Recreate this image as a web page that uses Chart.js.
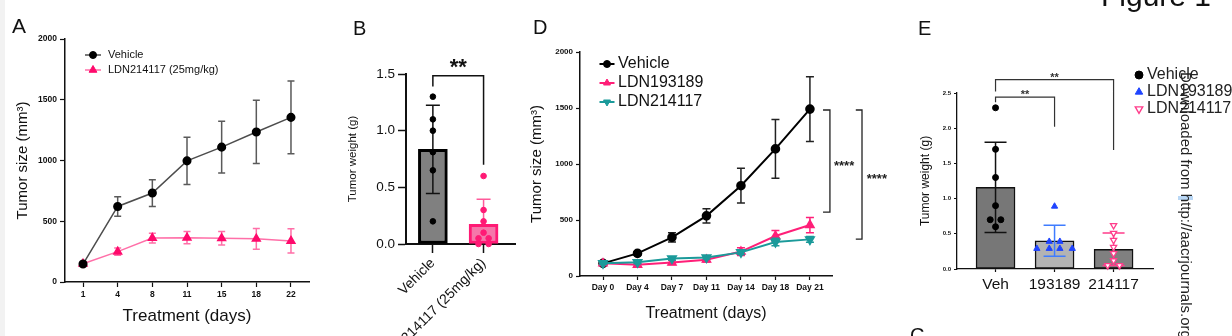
<!DOCTYPE html>
<html>
<head>
<meta charset="utf-8">
<title>Figure 1</title>
<script src="https://cdn.jsdelivr.net/npm/chart.js@4.4.1/dist/chart.umd.min.js"></script>
<style>
  html, body { margin: 0; padding: 0; background: #fff; }
  body { width: 1232px; height: 336px; position: relative; overflow: hidden;
         font-family: "Liberation Sans", Arial, Helvetica, sans-serif; color: #111; }
  .pane { position: absolute; top: 0; }
  .lbl { position: absolute; line-height: 1; white-space: nowrap; }
</style>
</head>
<body>
<div style="position:absolute;left:0;top:0;width:5px;height:336px;background:#f2f2f2"></div>

<div class="pane" style="left:0"><canvas id="chA" width="320" height="336"></canvas></div>
<div class="pane" style="left:320px"><canvas id="chB" width="200" height="336"></canvas></div>
<div class="pane" style="left:520px"><canvas id="chD" width="380" height="336"></canvas></div>
<div class="pane" style="left:900px"><canvas id="chE" width="332" height="336"></canvas></div>

<div class="lbl" style="left:12px;top:15px;font-size:21px">A</div>
<div class="lbl" style="left:353px;top:18px;font-size:20px">B</div>
<div class="lbl" style="left:533px;top:17px;font-size:20px">D</div>
<div class="lbl" style="left:918px;top:18px;font-size:20px">E</div>
<div class="lbl" style="left:910px;top:325px;font-size:20px">C</div>
<div class="lbl" style="left:1101px;top:-19px;font-size:30px">Figure 1</div>
<div style="position:absolute;left:1178px;top:196px;width:15px;height:4px;background:#b9d7f5"></div>
<div class="lbl" style="left:1178px;top:72px;font-size:15px;line-height:16px;writing-mode:vertical-rl;color:#222">Downloaded from http://aacrjournals.org/</div>

<script>
// ---- panel A: tumour size, vehicle vs LDN214117 25 mg/kg ----
const DAYS_A = ['1', '4', '8', '11', '15', '18', '22'];
const VEH_A = [148, 622, 732, 997, 1110, 1235, 1355];
const VEH_A_ERR = [12, 80, 110, 195, 213, 260, 300];
const LDN_A = [150, 250, 362, 365, 360, 355, 338];
const LDN_A_ERR = [12, 30, 40, 50, 55, 85, 100];

// ---- panel B: tumour weight ----
const GROUPS_B = ['Vehicle', 'LDN214117 (25mg/kg)'];
const MEAN_B = [0.835, 0.174];
const SD_B = [0.39, 0.22];
const VEH_B_PTS = [1.30, 1.10, 1.00, 0.81, 0.65, 0.20];
const LDN_B_PTS = [0.60, 0.30, 0.20, 0.10, 0.05, 0.05, 0.0, 0.0];
const LDN_B_JIT = [0, 0, 0, 0, -0.1, 0.1, -0.1, 0.1];

// ---- panel D: tumour size, three groups ----
const DAYS_D = ['Day 0', 'Day 4', 'Day 7', 'Day 11', 'Day 14', 'Day 18', 'Day 21'];
const VEH_D = [113, 202, 345, 537, 806, 1135, 1490];
const VEH_D_ERR = [10, 15, 42, 63, 155, 263, 290];
const L193_D = [113, 100, 120, 145, 218, 357, 455];
const L193_D_ERR = [10, 12, 18, 20, 35, 50, 68];
const L214_D = [113, 122, 157, 166, 211, 303, 327];
const L214_D_ERR = [10, 12, 15, 15, 20, 33, 25];

// ---- panel E: tumour weight, three groups ----
const GROUPS_E = ['Veh', '193189', '214117'];
const MEAN_E = [1.16, 0.40, 0.28];
const SD_E = [0.64, 0.22, 0.23];
const VEH_E_PTS = [2.29, 1.70, 1.30, 0.90, 0.70, 0.70, 0.60];
const VEH_E_JIT = [0, 0, 0, 0, -0.09, 0.09, 0];
const L193_E_PTS = [0.89, 0.39, 0.39, 0.29, 0.29, 0.29, 0.29];
const L193_E_JIT = [0, -0.09, 0.09, -0.3, -0.09, 0.09, 0.3];
const L214_E_PTS = [0.62, 0.51, 0.41, 0.31, 0.22, 0.12, 0.05, 0.05];
const L214_E_JIT = [0, 0, 0, 0, 0, 0, -0.1, 0.1];

Chart.defaults.font.family = '"Liberation Sans", Arial, Helvetica, sans-serif';
Chart.defaults.color = '#111';

const series = arr => arr.map((v, i) => ({ x: i, y: v }));

function drawErrorBars(chart, index) {
  const ds = chart.data.datasets[index];
  if (!ds.err) return;
  const { ctx, scales: { x, y } } = chart;
  ctx.save();
  ctx.lineWidth = ds.errWidth || 1.5;
  ds.data.forEach((p, j) => {
    const e = ds.err[j];
    const cx = x.getPixelForValue(p.x);
    const top = y.getPixelForValue(p.y + e);
    const mid = y.getPixelForValue(p.y);
    const bot = p.y - e > 0 ? y.getPixelForValue(p.y - e) : mid;
    const half = ds.errCap / 2;
    ctx.strokeStyle = Array.isArray(ds.errColor) ? ds.errColor[j] : ds.errColor;
    ctx.beginPath();
    ctx.moveTo(cx, top); ctx.lineTo(cx, bot);
    ctx.moveTo(cx - half, top); ctx.lineTo(cx + half, top);
    if (bot !== mid) { ctx.moveTo(cx - half, bot); ctx.lineTo(cx + half, bot); }
    ctx.stroke();
  });
  ctx.restore();
}

// error bars go under line markers, but over bars
const errorBars = {
  id: 'errorBars',
  beforeDatasetDraw(chart, args) {
    if (!chart.data.datasets[args.index].errOnTop) drawErrorBars(chart, args.index);
  },
  afterDatasetDraw(chart, args) {
    if (chart.data.datasets[args.index].errOnTop) drawErrorBars(chart, args.index);
  }
};

const customLegend = {
  id: 'customLegend',
  afterDraw(chart, args, opts) {
    if (!opts.items) return;
    const ctx = chart.ctx;
    ctx.save();
    ctx.font = opts.font;
    ctx.textBaseline = 'middle';
    opts.items.forEach((it, i) => {
      const y = opts.y + i * opts.dy;
      if (it.line) {
        ctx.strokeStyle = it.line;
        ctx.lineWidth = opts.lineWidth || 1.5;
        ctx.beginPath();
        ctx.moveTo(opts.x - opts.lineHalf, y);
        ctx.lineTo(opts.x + opts.lineHalf, y);
        ctx.stroke();
      }
      ctx.fillStyle = it.fill;
      ctx.strokeStyle = it.stroke || it.fill;
      ctx.lineWidth = it.bw || 1;
      Chart.helpers.drawPoint(ctx, { pointStyle: it.style, rotation: it.rotation || 0, radius: it.r, borderWidth: it.bw || 1 }, opts.x, y);
      ctx.fillStyle = opts.color || '#111';
      ctx.textAlign = 'left';
      ctx.fillText(it.label, opts.textX, y);
    });
    ctx.restore();
  }
};

const sigBrackets = {
  id: 'sigBrackets',
  afterDraw(chart, args, opts) {
    if (!opts.items) return;
    const { ctx, scales: { x, y } } = chart;
    ctx.save();
    ctx.strokeStyle = opts.color || '#222';
    ctx.lineWidth = opts.width || 1.2;
    ctx.fillStyle = opts.color || '#222';
    ctx.font = opts.font;
    ctx.textAlign = 'center';
    ctx.textBaseline = 'middle';
    for (const b of opts.items) {
      ctx.beginPath();
      b.path.forEach(([vx, vy], k) => {
        const px = x.getPixelForValue(vx), py = y.getPixelForValue(vy);
        if (k) ctx.lineTo(px, py); else ctx.moveTo(px, py);
      });
      ctx.stroke();
      ctx.fillText(b.text, x.getPixelForValue(b.tx), y.getPixelForValue(b.ty));
    }
    ctx.restore();
  }
};

function yAxis(o) {
  return {
    type: 'linear', min: o.min, max: o.max,
    ticks: { stepSize: o.step, font: o.font, color: '#111', padding: 3,
             callback: o.fmt || (v => v) },
    grid: { drawOnChartArea: false, drawTicks: true, tickLength: o.tick, color: '#111', tickWidth: o.tickWidth || 1.2 },
    border: { display: true, color: '#111', width: o.border || 1.5 },
    title: o.title ? { display: true, text: o.title, font: o.titleFont, color: '#111', padding: { top: 4, bottom: 4 } } : { display: false },
    afterFit: s => { s.width = o.width; }
  };
}

function xAxis(o) {
  return {
    type: 'linear', min: o.min, max: o.max, offset: false,
    afterBuildTicks: s => { s.ticks = o.labels.map((_, i) => ({ value: i })); },
    ticks: { font: o.font, color: '#111', padding: o.pad || 3, autoSkip: false,
             maxRotation: o.rot || 0, minRotation: o.rot || 0, callback: v => o.labels[v] },
    grid: { offset: false, drawOnChartArea: false, drawTicks: true, tickLength: o.tick, color: '#111', tickWidth: o.tickWidth || 1.2 },
    border: { display: true, color: '#111', width: o.border || 1.5 },
    title: o.title ? { display: true, text: o.title, font: o.titleFont, color: '#111', padding: { top: 4, bottom: 4 } } : { display: false },
    afterFit: s => { s.height = o.height; }
  };
}

const base = { responsive: false, animation: false, events: [] };

// ---------- A ----------
new Chart(document.getElementById('chA'), {
  type: 'line',
  data: { datasets: [
    { label: 'Vehicle', data: series(VEH_A), err: VEH_A_ERR, errColor: '#5a5a5a', errCap: 7,
      borderColor: '#4d4d4d', borderWidth: 1.5, pointStyle: 'circle', pointRadius: 3.8,
      pointBackgroundColor: '#000', pointBorderColor: '#000' },
    { label: 'LDN214117 (25mg/kg)', data: series(LDN_A), err: LDN_A_ERR, errColor: '#ff6fa8', errCap: 7,
      borderColor: '#ff6fa8', borderWidth: 1.5, pointStyle: 'triangle', pointRadius: 4.5,
      pointBackgroundColor: '#ff0a6c', pointBorderColor: '#ff0a6c' }
  ] },
  options: { ...base,
    layout: { padding: { left: 10, top: 39, right: 11, bottom: 5 } },
    plugins: { legend: { display: false }, tooltip: { enabled: false },
      customLegend: { x: 93, y: 55, dy: 15, lineHalf: 8, textX: 108, font: '11px "Liberation Sans", Arial, sans-serif',
        items: [
          { label: 'Vehicle', line: '#4d4d4d', fill: '#000', style: 'circle', r: 3.5 },
          { label: 'LDN214117 (25mg/kg)', line: '#ff6fa8', fill: '#ff0a6c', style: 'triangle', r: 4.5 }
        ] } },
    scales: {
      x: xAxis({ min: -0.52, max: 6.52, labels: DAYS_A, height: 49, tick: 5,
                 font: { size: 8.5, weight: 'bold' }, title: 'Treatment (days)', titleFont: { size: 17 } }),
      y: yAxis({ min: 0, max: 2000, step: 500, width: 55, tick: 5,
                 font: { size: 8.5, weight: 'bold' }, title: 'Tumor size (mm³)', titleFont: { size: 15 } })
    } },
  plugins: [errorBars, customLegend]
});

// ---------- B ----------
new Chart(document.getElementById('chB'), {
  type: 'bar',
  data: { datasets: [
    { type: 'scatter', data: VEH_B_PTS.map(v => ({ x: 0, y: v })), pointRadius: 2.8, clip: false,
      pointBackgroundColor: '#000', pointBorderColor: '#000' },
    { type: 'scatter', data: LDN_B_PTS.map((v, i) => ({ x: 1 + LDN_B_JIT[i], y: v })), pointRadius: 2.8, clip: false,
      pointBackgroundColor: '#ff1a75', pointBorderColor: '#ff1a75' },
    { type: 'bar', data: series(MEAN_B), err: SD_B, errOnTop: true, errColor: ['#111', '#ff5a9a'], errCap: 14, errWidth: 1.5,
      backgroundColor: ['#808080', '#f577aa'], borderColor: ['#000', '#ff1a75'], borderWidth: 3,
      borderSkipped: false, barThickness: 29 }
  ] },
  options: { ...base,
    layout: { padding: { left: 22, top: 74, right: 0, bottom: 0 } },
    plugins: { legend: { display: false }, tooltip: { enabled: false },
      sigBrackets: { font: 'bold 22px "Liberation Sans", Arial, sans-serif', width: 1.5, color: '#111',
        items: [{ path: [[0, 1.39], [0, 1.485], [1, 1.485], [1, 0.70]], text: '**', tx: 0.5, ty: 1.55 }] } },
    scales: {
      x: xAxis({ min: -0.53, max: 1.62, labels: GROUPS_B, height: 92, tick: 9, rot: 45, pad: 2,
                 font: { size: 14 }, border: 2, tickWidth: 1.5 }),
      y: yAxis({ min: 0, max: 1.5, step: 0.5, width: 64, tick: 8, border: 2, tickWidth: 1.5,
                 font: { size: 13.5 }, fmt: v => v.toFixed(1), title: 'Tumor weight (g)', titleFont: { size: 11.5 } })
    } },
  plugins: [errorBars, sigBrackets]
});

// ---------- D ----------
new Chart(document.getElementById('chD'), {
  type: 'line',
  data: { datasets: [
    { label: 'LDN214117', data: series(L214_D), err: L214_D_ERR, errColor: '#1b9a9a', errCap: 8,
      borderColor: '#1b9a9a', borderWidth: 2, pointStyle: 'triangle', rotation: 180, pointRadius: 4.5,
      pointBackgroundColor: '#1b9a9a', pointBorderColor: '#1b9a9a' },
    { label: 'LDN193189', data: series(L193_D), err: L193_D_ERR, errColor: '#ff1f78', errCap: 8,
      borderColor: '#ff1f78', borderWidth: 2, pointStyle: 'triangle', pointRadius: 4.2,
      pointBackgroundColor: '#ff1f78', pointBorderColor: '#ff1f78' },
    { label: 'Vehicle', data: series(VEH_D), err: VEH_D_ERR, errColor: '#222', errCap: 8,
      borderColor: '#000', borderWidth: 2, pointStyle: 'circle', pointRadius: 3.8,
      pointBackgroundColor: '#000', pointBorderColor: '#000' }
  ] },
  options: { ...base,
    layout: { padding: { left: 4, top: 52, right: 68, bottom: 9 } },
    plugins: { legend: { display: false }, tooltip: { enabled: false },
      customLegend: { x: 87, y: 64, dy: 19, lineHalf: 7.5, lineWidth: 2, textX: 98, font: '16px "Liberation Sans", Arial, sans-serif',
        items: [
          { label: 'Vehicle', line: '#000', fill: '#000', style: 'circle', r: 3.5 },
          { label: 'LDN193189', line: '#ff1f78', fill: '#ff1f78', style: 'triangle', r: 4 },
          { label: 'LDN214117', line: '#1b9a9a', fill: '#1b9a9a', style: 'triangle', rotation: 180, r: 4 }
        ] },
      sigBrackets: { font: 'bold 13px "Liberation Sans", Arial, sans-serif', width: 1.3, color: '#222',
        items: [
          { path: [[6.38, 1482], [6.58, 1482], [6.58, 571], [6.38, 571]], text: '****', tx: 6.99, ty: 982 },
          { path: [[7.33, 1482], [7.51, 1482], [7.51, 330], [7.33, 330]], text: '****', tx: 7.94, ty: 866 }
        ] } },
    scales: {
      x: xAxis({ min: -0.667, max: 6.64, labels: DAYS_D, height: 51, tick: 4,
                 font: { size: 8.5, weight: 'bold' }, title: 'Treatment (days)', titleFont: { size: 16 } }),
      y: yAxis({ min: 0, max: 2000, step: 500, width: 56, tick: 4,
                 font: { size: 8, weight: 'bold' }, title: 'Tumor size (mm³)', titleFont: { size: 15 } })
    } },
  plugins: [errorBars, customLegend, sigBrackets]
});

// ---------- E ----------
new Chart(document.getElementById('chE'), {
  type: 'bar',
  data: { datasets: [
    { type: 'scatter', data: VEH_E_PTS.map((v, i) => ({ x: VEH_E_JIT[i], y: v })), pointRadius: 3, clip: false,
      pointBackgroundColor: '#000', pointBorderColor: '#000' },
    { type: 'scatter', data: L193_E_PTS.map((v, i) => ({ x: 1 + L193_E_JIT[i], y: v })), pointRadius: 3.6, clip: false,
      pointStyle: 'triangle', pointBackgroundColor: '#1f44ff', pointBorderColor: '#1f44ff' },
    { type: 'scatter', data: L214_E_PTS.map((v, i) => ({ x: 2 + L214_E_JIT[i], y: v })), pointRadius: 3.6, clip: false,
      pointStyle: 'triangle', rotation: 180, pointBackgroundColor: '#fff', pointBorderColor: '#ff3d8b', pointBorderWidth: 1.3 },
    { type: 'bar', data: series(MEAN_E), err: SD_E, errOnTop: true, errColor: ['#111', '#3f7cff', '#ff3d8b'], errCap: 22, errWidth: 1.5,
      backgroundColor: ['#777', '#b3b3b3', '#808080'], borderColor: '#111', borderWidth: 1.5,
      borderSkipped: false, barThickness: 39 }
  ] },
  options: { ...base,
    layout: { padding: { left: 14, top: 93, right: 79, bottom: 0 } },
    plugins: { legend: { display: false }, tooltip: { enabled: false },
      customLegend: { x: 239, y: 75, dy: 17, lineHalf: 0, textX: 247, color: '#222', font: '16px "Liberation Sans", Arial, sans-serif',
        items: [
          { label: 'Vehicle', fill: '#000', style: 'circle', r: 4 },
          { label: 'LDN193189', fill: '#1f44ff', style: 'triangle', r: 4.3 },
          { label: 'LDN214117', fill: '#fff', stroke: '#ff3d8b', bw: 1.4, style: 'triangle', rotation: 180, r: 4.3 }
        ] },
      sigBrackets: { font: 'bold 11px "Liberation Sans", Arial, sans-serif', width: 1.2, color: '#333',
        items: [
          { path: [[0, 2.37], [0, 2.44], [1, 2.44], [1, 2.02]], text: '**', tx: 0.5, ty: 2.475 },
          { path: [[0, 2.52], [0, 2.69], [2, 2.69], [2, 1.69]], text: '**', tx: 1.0, ty: 2.71 }
        ] } },
    scales: {
      x: xAxis({ min: -0.653, max: 2.668, labels: GROUPS_E, height: 67, tick: 3, border: 1.3, font: { size: 15.5 } }),
      y: yAxis({ min: 0, max: 2.5, step: 0.5, width: 43, tick: 3, border: 1.3, tickWidth: 1,
                 font: { size: 6, weight: 'bold' }, fmt: v => v.toFixed(1), title: 'Tumor weight (g)', titleFont: { size: 12 } })
    } },
  plugins: [errorBars, customLegend, sigBrackets]
});
</script>
</body>
</html>
